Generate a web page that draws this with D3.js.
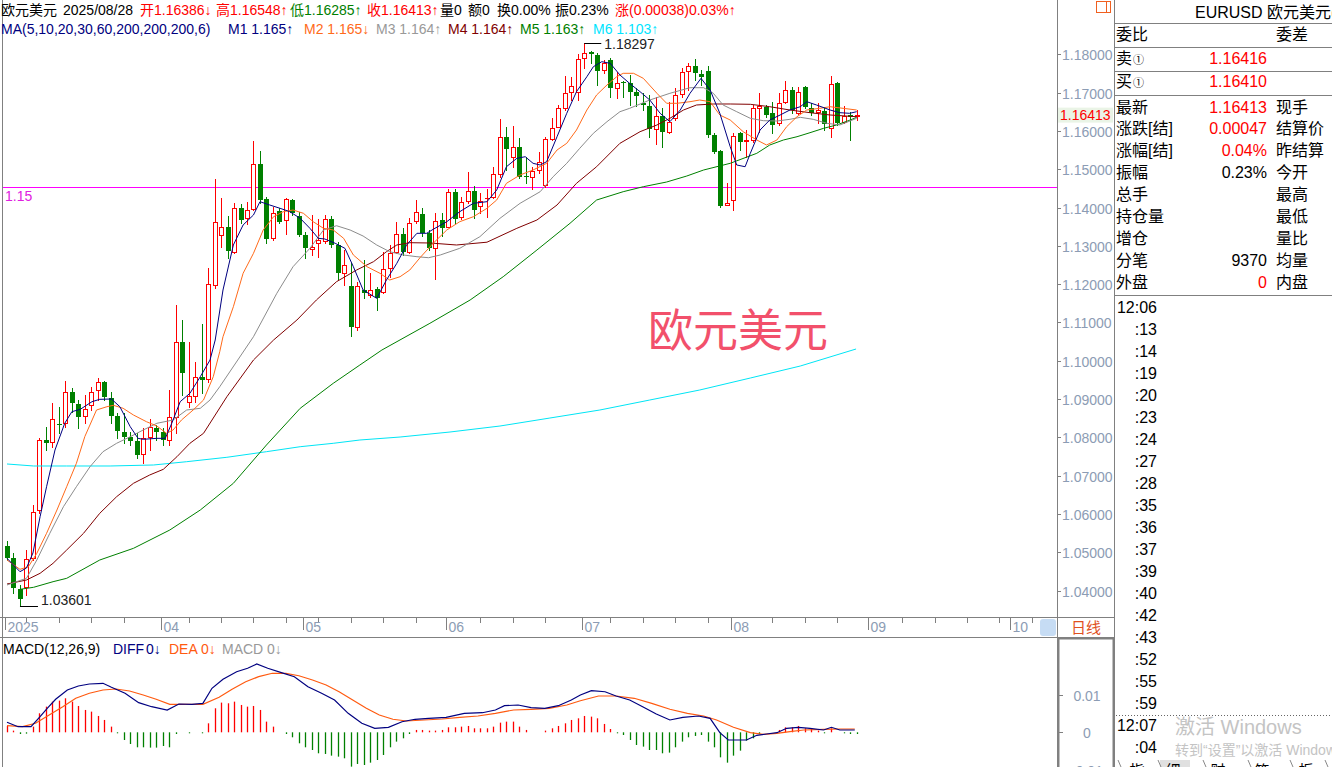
<!DOCTYPE html>
<html><head><meta charset="utf-8">
<script src="https://cdn.jsdelivr.net/npm/d3@7"></script>
<style>
body{margin:0;background:#fff;overflow:hidden}
text{font-family:"Liberation Sans",Arial,"Noto Sans CJK SC",sans-serif}
</style>
</head><body>
<svg id="c" width="1332" height="767"></svg>
<script>
// ---------------- DATA ----------------
const openP=[1.05166,1.04853,1.04044,1.04096,1.04853,1.06106,1.07933,1.07881,1.08351,1.08377,
1.09186,1.08873,1.08559,1.08847,1.09238,1.09447,1.09029,1.08559,1.08142,1.08011,
1.07907,1.07568,1.08011,1.08246,1.08142,1.07933,1.08533,1.10491,1.08925,1.09081,
1.09577,1.09525,1.11979,1.13276,1.13485,1.12848,1.13980,1.13719,1.13962,1.15129,
1.14215,1.13197,1.13910,1.13675,1.14197,1.13779,1.13284,1.12910,1.13067,1.13135,
1.13693,1.13023,1.12284,1.11952,1.10875,1.11848,1.11718,1.11866,1.11804,1.12414,
1.12848,1.13302,1.12848,1.13657,1.13832,1.13328,1.12936,1.13675,1.13500,1.14398,
1.13761,1.14179,1.14440,1.14040,1.14241,1.14283,1.14876,1.15834,1.15312,1.15588,
1.14831,1.14805,1.14980,1.14589,1.15781,1.16110,1.16590,1.17024,1.17024,1.17895,
1.18060,1.17982,1.17590,1.17851,1.17112,1.17285,1.17251,1.17024,1.16721,1.16650,
1.16042,1.16397,1.15980,1.16329,1.16964,1.17564,1.17702,1.17486,1.17564,1.15894,
1.15476,1.14067,1.14197,1.15954,1.15737,1.15763,1.16606,1.16632,1.16460,1.16199,
1.16763,1.17068,1.16476,1.17154,1.16606,1.16502,1.16528,1.16068,1.17243,1.16241,
1.16416,1.16386];
const highP=[1.05297,1.04984,1.04149,1.05062,1.06237,1.07985,1.08272,1.08899,1.08794,1.09473,
1.09290,1.08977,1.09108,1.09316,1.09551,1.09473,1.09186,1.08638,1.08638,1.08142,
1.08116,1.08246,1.08481,1.08325,1.08246,1.09238,1.11457,1.11065,1.10491,1.09969,
1.10961,1.12422,1.14737,1.14241,1.13779,1.14111,1.14093,1.14153,1.15737,1.15476,
1.14283,1.14022,1.13980,1.14257,1.14223,1.13892,1.13370,1.13806,1.13693,1.13806,
1.13779,1.13109,1.12892,1.12545,1.12065,1.12631,1.12284,1.11934,1.12848,1.13023,
1.13631,1.13458,1.13719,1.14197,1.13988,1.13414,1.13866,1.13866,1.14476,1.14476,
1.14268,1.14936,1.14562,1.14372,1.14476,1.15050,1.16311,1.16110,1.16136,1.15807,
1.15327,1.15066,1.15458,1.15834,1.16329,1.16677,1.17434,1.17415,1.18008,1.18297,
1.18086,1.18026,1.17851,1.17895,1.17546,1.17311,1.17460,1.17133,1.16982,1.16938,
1.16893,1.16590,1.16763,1.17112,1.17634,1.17765,1.17869,1.17590,1.17694,1.15946,
1.15502,1.14633,1.15938,1.15980,1.16024,1.16677,1.16998,1.16677,1.16763,1.16982,
1.17311,1.17154,1.17154,1.17172,1.16721,1.16721,1.16632,1.17434,1.17285,1.16650,
1.16502,1.16548];
const lowP=[1.04801,1.03940,1.03601,1.03888,1.04801,1.06028,1.07672,1.07750,1.08116,1.08272,
1.08664,1.08246,1.08377,1.08716,1.08977,1.08977,1.08377,1.07985,1.07855,1.07803,
1.07463,1.07333,1.07672,1.07933,1.07803,1.07803,1.08116,1.09108,1.08794,1.08925,
1.09160,1.09447,1.11893,1.12978,1.12683,1.12806,1.13589,1.13563,1.13936,1.14127,
1.13083,1.13153,1.13605,1.13310,1.13806,1.13257,1.12675,1.12762,1.12717,1.13067,
1.12978,1.12127,1.11979,1.10647,1.10804,1.11631,1.11673,1.11326,1.11762,1.12195,
1.12806,1.12762,1.12806,1.13605,1.13257,1.12892,1.12127,1.13257,1.13485,1.13605,
1.13693,1.14111,1.13719,1.13866,1.13745,1.14241,1.14805,1.14980,1.15050,1.14763,
1.14633,1.14476,1.14910,1.14544,1.15763,1.16095,1.16546,1.16807,1.16807,1.17634,
1.17773,1.17199,1.17520,1.16893,1.16851,1.16893,1.16677,1.16650,1.16546,1.15849,
1.15659,1.15588,1.15938,1.16285,1.16893,1.17068,1.17329,1.17199,1.15849,1.15424,
1.14022,1.14054,1.13936,1.15502,1.15327,1.15719,1.15980,1.16371,1.15938,1.16155,
1.16721,1.16460,1.16442,1.16590,1.16416,1.16199,1.16024,1.15834,1.16155,1.16199,
1.15763,1.16285];
const closeP=[1.04853,1.04070,1.03783,1.04827,1.06054,1.07933,1.07855,1.08481,1.08325,1.09186,
1.08899,1.08533,1.08742,1.09186,1.09447,1.09055,1.08559,1.08168,1.08011,1.07907,
1.07542,1.07985,1.08272,1.08142,1.07933,1.08533,1.10491,1.09682,1.09081,1.09577,
1.09499,1.12005,1.13615,1.13485,1.12874,1.13980,1.13675,1.13936,1.15129,1.14197,
1.13171,1.13866,1.13631,1.14215,1.13850,1.13284,1.12936,1.12978,1.13153,1.13693,
1.13023,1.12300,1.12501,1.10890,1.11952,1.11762,1.11848,1.11631,1.12388,1.12822,
1.13302,1.12848,1.13605,1.13884,1.13336,1.12936,1.13657,1.13458,1.14414,1.13693,
1.14153,1.14440,1.13936,1.14179,1.14257,1.14868,1.15834,1.15520,1.15588,1.14805,
1.14805,1.14962,1.15197,1.15781,1.16068,1.16590,1.16998,1.17172,1.17869,1.18042,
1.18008,1.17572,1.17765,1.17112,1.17259,1.17243,1.17024,1.16911,1.16677,1.16042,
1.16397,1.15980,1.16241,1.16938,1.17530,1.17694,1.17504,1.17415,1.15894,1.15458,
1.14040,1.14127,1.15875,1.15719,1.15763,1.16590,1.16658,1.16416,1.16155,1.16737,
1.17068,1.16546,1.17024,1.16632,1.16476,1.16546,1.16181,1.17225,1.16199,1.16389,
1.16375,1.16413];

// moving averages: [day index, value]
const ma5=[[0,1.04845],[2,1.04496],[3,1.04592],[4,1.04984],[5.1,1.05931],[6.1,1.06714],[7.4,1.07672],[8.9,1.08369],[10,1.08672],[11.3,1.08734],[13.1,1.08933],[14.3,1.08995],[16.1,1.09003],[17.4,1.08802],[19,1.0828],[20.2,1.07977],[21,1.07951],[23.1,1.07977],[24.4,1.07977],[25.4,1.08369],[26.7,1.08933],[28.2,1.09152],[29.8,1.09585],[31.3,1.10021],[32.1,1.10543],[33.3,1.11848],[34.9,1.13023],[36.4,1.13545],[38,1.13806],[39,1.14153],[40.5,1.14067],[42.1,1.1398],[43.6,1.13892],[45.2,1.13719],[46.7,1.13458],[48,1.13197],[49,1.13179],[50.6,1.13067],[52.1,1.12936],[53.4,1.12456],[54.9,1.11848],[57,1.11631],[58.5,1.12109],[60.1,1.12545],[61.6,1.13023],[63.2,1.13328],[64.7,1.13328],[65.7,1.13432],[67.8,1.13631],[69.8,1.13892],[71.9,1.14111],[74,1.14153],[75.5,1.14458],[77,1.15066],[78.6,1.15285],[79.9,1.15327],[81.1,1.15155],[82.2,1.15111],[83.2,1.15197],[84.8,1.15849],[86.3,1.1646],[87.8,1.17024],[89.4,1.17415],[90.4,1.17676],[91.7,1.17807],[93,1.17765],[94.5,1.1746],[96.1,1.17225],[97.6,1.17024],[99.1,1.16807],[100.7,1.1646],[102.2,1.16241],[103.8,1.16546],[105.3,1.16982],[107,1.17373],[108.4,1.17068],[109.9,1.1646],[111.5,1.15588],[112.5,1.15111],[113.8,1.15066],[114.6,1.15416],[116.1,1.16024],[117.6,1.16285],[119.2,1.16416],[120.7,1.16546],[122.3,1.16632],[123.3,1.16763],[124.8,1.16677],[126.9,1.16546],[128.4,1.16476],[129.9,1.1646],[131,1.16502]];
const ma10=[[0,1.04801],[2,1.04558],[3.3,1.04626],[4.6,1.04976],[6.1,1.05498],[7.7,1.06106],[9.2,1.06714],[10.7,1.07325],[12,1.08023],[13.8,1.08716],[15.4,1.08802],[16.4,1.08839],[17.9,1.08761],[19.5,1.08585],[21.5,1.08411],[23.1,1.08298],[24.6,1.08108],[25.6,1.08194],[26.9,1.08455],[28.7,1.08716],[30.3,1.08977],[31.8,1.09585],[32.8,1.10238],[33.3,1.10629],[34.9,1.11412],[36.4,1.12284],[38,1.12806],[39.5,1.13414],[41.1,1.13761],[42.6,1.13892],[44.1,1.13936],[45.7,1.1385],[47.2,1.13631],[48.8,1.13458],[50.3,1.13414],[51.9,1.13197],[53.4,1.12762],[55.5,1.12456],[57.5,1.12284],[59,1.12109],[60.6,1.12195],[62.1,1.1237],[63.7,1.12696],[65,1.12936],[65.7,1.13067],[67.8,1.13414],[69.8,1.13631],[71.9,1.13761],[74,1.1398],[75.5,1.14197],[77,1.14633],[79.1,1.1485],[81.1,1.1498],[83.2,1.15155],[84.8,1.15502],[86.3,1.15677],[87.8,1.16024],[89.4,1.16546],[90.9,1.16938],[92.5,1.17199],[94,1.17415],[95,1.17504],[96.6,1.17504],[98.1,1.17373],[100.2,1.16982],[101.7,1.16721],[103.3,1.16721],[105.3,1.16763],[106.8,1.16807],[108.4,1.16763],[109.9,1.16416],[111.5,1.16285],[113.5,1.1598],[115.6,1.15763],[117.1,1.15633],[118.7,1.15763],[120.2,1.1611],[121.8,1.16371],[123.3,1.16546],[125.3,1.1659],[126.9,1.16632],[128.9,1.1659],[131,1.16546]];
const ma20=[[0,1.04149],[3,1.04324],[4.6,1.04801],[6.6,1.05498],[8.7,1.06192],[10.7,1.06714],[12.8,1.07236],[14.8,1.07628],[16.9,1.07847],[19,1.08019],[21,1.08194],[23.1,1.08369],[25.6,1.08455],[27.7,1.08716],[29.8,1.08761],[31.3,1.08977],[32.8,1.09324],[38,1.10629],[41.6,1.11762],[44.1,1.12456],[46.7,1.12937],[48.8,1.13414],[50.8,1.13526],[52.9,1.13414],[54.9,1.13257],[57,1.13023],[59,1.12848],[61.1,1.12762],[63.2,1.12717],[65,1.12691],[66.8,1.12762],[69.8,1.12936],[72.9,1.13239],[76,1.13719],[79.1,1.14111],[82.2,1.14414],[84.2,1.14805],[86.3,1.15155],[88.3,1.15546],[90.4,1.15938],[92.5,1.16241],[94.5,1.16502],[96,1.1659],[99.1,1.16807],[102.2,1.16982],[105.3,1.17128],[107.4,1.17128],[108.9,1.16982],[110.4,1.16677],[112.5,1.16502],[114.6,1.16329],[116.6,1.16267],[118.7,1.16259],[120.7,1.16303],[122.3,1.16355],[124.3,1.16303],[126.4,1.16199],[128.4,1.16155],[131,1.16329]];
const ma30=[[0,1.04175],[3,1.04279],[5.1,1.04454],[7.1,1.04715],[9.2,1.05062],[11.8,1.05498],[14.3,1.0602],[16.9,1.06453],[19.5,1.06803],[22,1.0702],[24.1,1.07168],[26.2,1.07497],[28.2,1.07847],[30.3,1.08108],[33.9,1.09063],[38,1.10021],[41.1,1.10543],[44.7,1.11065],[47.7,1.11587],[50.8,1.12065],[53.9,1.1237],[56.5,1.12587],[58.5,1.12848],[60.1,1.13023],[62.1,1.13083],[65.2,1.13075],[69.3,1.13023],[74,1.13096],[78.6,1.13458],[81.7,1.13675],[84.8,1.14067],[87.8,1.14633],[90.9,1.15066],[94.5,1.15677],[97.6,1.1598],[100.2,1.16155],[102.2,1.16329],[104.3,1.16546],[106.3,1.16677],[108.9,1.16703],[111.5,1.16703],[114.6,1.16695],[117.6,1.16632],[120.7,1.16546],[123.8,1.16476],[126.9,1.16416],[131,1.16371]];
const ma60=[[2,1.04036],[4.1,1.04089],[7.1,1.04235],[9.2,1.04323],[14.3,1.04801],[19.5,1.05106],[25.1,1.05584],[29.8,1.06106],[34.9,1.06803],[40,1.07802],[45.2,1.0876],[50.3,1.09413],[54.4,1.0989],[57.8,1.10282],[65.2,1.10979],[71.4,1.11587],[76.5,1.12195],[81.7,1.12892],[86.8,1.13589],[90.9,1.14197],[95,1.14414],[98.1,1.14544],[101.7,1.14667],[104.8,1.14823],[107.4,1.1498],[111.5,1.15155],[115.6,1.15416],[117.6,1.15633],[119.7,1.15763],[121.8,1.15849],[123.8,1.15954],[125.9,1.16068],[127.9,1.16155],[130,1.16285],[131,1.16356]];
const ma200=[[0,1.07307],[4.1,1.07255],[9.2,1.07255],[15.9,1.07255],[22.6,1.07281],[27.7,1.07367],[33.9,1.07482],[40,1.07628],[45.2,1.07758],[50.3,1.07847],[54.4,1.07933],[60.6,1.08011],[68.3,1.08142],[76,1.08298],[83.7,1.08507],[91.4,1.08716],[99.1,1.08977],[106.8,1.09238],[114.6,1.09551],[122.3,1.09864],[130.9,1.10308]];

// MACD panel
const macdDiff=[[0,0.00268],[1.7,0.0015],[3.7,0.0015],[5.1,0.00418],[6.2,0.00643],[7.5,0.00885],[9.3,0.01134],[11,0.01241],[12.7,0.01295],[14.8,0.01314],[16.1,0.01206],[18.2,0.01046],[20.3,0.00794],[22.3,0.00686],[24.7,0.00598],[26.5,0.00759],[28.5,0.00751],[30.2,0.00777],[31.6,0.0118],[33.3,0.01421],[35.4,0.01625],[37.1,0.01716],[38.5,0.01831],[40.2,0.01716],[42.3,0.01598],[44.3,0.01491],[46.4,0.01223],[48.5,0.01046],[50.5,0.00866],[52.6,0.00509],[54.7,0.00241],[56.7,0.00107],[58.8,0.00134],[60.9,0.00284],[62.9,0.00349],[65,0.00375],[67.7,0.00402],[70.5,0.00509],[73.3,0.00525],[75.3,0.00598],[76.7,0.00713],[78.8,0.00732],[80.8,0.0066],[82.9,0.00643],[85,0.00713],[87,0.00866],[88.4,0.01],[90.1,0.01115],[92.2,0.01088],[93.9,0.00973],[96,0.00866],[98,0.00686],[100.1,0.00491],[102.2,0.0033],[104.2,0.00402],[106.6,0.00437],[108.4,0.00375],[109.9,-0.0001],[111.2,-0.00206],[114,-0.00206],[115.6,-0.0008],[117.1,-0.00046],[118.7,-0.0001],[120.2,0.00107],[122,0.00134],[123.8,0.00107],[125.9,0.00062],[127.1,0.00134],[128.4,0.00062],[130.7,0.00062]];
const macdDea=[[0,0.00177],[2.4,0.0015],[4.4,0.00241],[6.5,0.00464],[8.6,0.00686],[10.6,0.00912],[12.7,0.01046],[14.8,0.01134],[16.8,0.01161],[18.9,0.01107],[21,0.01],[23,0.00885],[25.1,0.00751],[27.8,0.00751],[30.2,0.00751],[32.7,0.00938],[34.7,0.01153],[36.8,0.01357],[38.8,0.01491],[40.9,0.01582],[43,0.01582],[45,0.01517],[47.1,0.01402],[49.2,0.01268],[51.2,0.01088],[53.3,0.00866],[55.4,0.00643],[57.4,0.00464],[59.5,0.00349],[61.6,0.00303],[64.3,0.0033],[67.1,0.00357],[69.8,0.00402],[72.6,0.00437],[75.3,0.00509],[78.1,0.00598],[80.8,0.00617],[83.6,0.00643],[86.3,0.00732],[88.4,0.00847],[91.2,0.00973],[93.9,0.00973],[96.7,0.00912],[99.4,0.00777],[102.2,0.00617],[104.9,0.00509],[107.4,0.00437],[109.4,0.0033],[112,0.00134],[114.6,-0.0001],[116.6,-0.00054],[118.7,-0.00027],[120.7,0.00016],[122.8,0.00062],[125.9,0.0008],[128.4,0.00088],[130.7,0.00088]];
const macdBar=[0.0017,0.00045,-0.00045,-0.00036,0.00152,0.0051,0.00688,0.00822,0.00849,0.00912,
0.00822,0.00706,0.00599,0.00554,0.00438,0.00331,0.00152,-0.00027,-0.00206,-0.00313,
-0.00402,-0.00402,-0.00411,-0.00411,-0.00367,-0.00402,-0.00045,0,-0.00027,0,
-0.00027,0.00241,0.00644,0.00796,0.00778,0.00822,0.00733,0.00688,0.00706,0.00599,
0.00286,0.00152,0,-0.00045,-0.00134,-0.00295,-0.00402,-0.00474,-0.00563,-0.00581,
-0.00626,-0.00653,-0.00697,-0.00921,-0.00849,-0.00876,-0.00814,-0.00742,-0.00608,-0.00402,
-0.0025,-0.00161,-0.00045,0.00063,0.00063,0.00045,0.00045,0.00063,0.00134,0.00134,
0.00152,0.0017,0.00107,0.00107,0.00107,0.00152,0.00259,0.00286,0.00286,0.00152,
0.00063,0,0,0.00045,0.00107,0.0017,0.00241,0.00331,0.00375,0.00438,
0.0042,0.00375,0.00224,0.00089,-0.00027,-0.00072,-0.00206,-0.0034,-0.00384,-0.00474,
-0.00474,-0.00563,-0.00545,-0.00402,-0.0025,-0.00134,-0.00098,-0.00072,-0.0025,-0.00402,
-0.00671,-0.00814,-0.00626,-0.00492,-0.00224,-0.00161,-0.00045,0,0,0.00063,
0.00134,0.00134,0.0017,0.00107,0.00089,0.00045,-0.00027,0.00107,0,-0.00027,
-0.00045,-0.00045];

const monthTicks=[{i:0,label:"2025"},{i:24,label:"04"},{i:46,label:"05"},{i:68,label:"06"},{i:89,label:"07"},{i:112,label:"08"},{i:133,label:"09"},{i:155,label:"10"}];
const priceTicks=[1.04,1.05,1.06,1.07,1.08,1.09,1.10,1.11,1.12,1.13,1.14,1.15,1.16,1.17,1.18];
const macdTicks=[{v:0.01,t:"0.01"},{v:0,t:"0"},{v:-0.01,t:"-0.01"}];
const markLine={v:1.1454,label:"1.15"};
const highMark={i:89,v:1.18297,label:"1.18297"};
const lowMark={i:2,v:1.03601,label:"1.03601"};
const lastPrice=1.16413;

const header1=[["欧元美元",1,"#000"],["2025/08/28",63,"#000"],["开1.16386↓",140,"#f00"],["高1.16548↑",216,"#f00"],["低1.16285↑",290,"#008000"],["收1.16413↑",367,"#f00"],["量0",440,"#000"],["额0",468,"#000"],["换0.00%",497,"#000"],["振0.23%",555,"#000"],["涨(0.00038)0.03%↑",615,"#f00"]];
const header2=[["MA(5,10,20,30,60,200,200,200,6)",1,"#000080"],["M1 1.165↑",228,"#000080"],["M2 1.165↓",304,"#ff6a1a"],["M3 1.164↑",376,"#999"],["M4 1.164↑",448,"#800000"],["M5 1.163↑",520,"#008000"],["M6 1.103↑",593,"#00e5ff"]];
const maColors=["#000080","#ff6a1a","#8c8c8c","#800000","#008000","#00e5f5"];

const tableRows=[
 {y:106.7,a:"最新",v:"1.16413",vc:"#f00",b:"现手"},
 {y:128.3,a:"涨跌[结]",v:"0.00047",vc:"#f00",b:"结算价"},
 {y:150.3,a:"涨幅[结]",v:"0.04%",vc:"#f00",b:"昨结算"},
 {y:172.3,a:"振幅",v:"0.23%",vc:"#000",b:"今开"},
 {y:194.3,a:"总手",v:"",vc:"#000",b:"最高"},
 {y:216.3,a:"持仓量",v:"",vc:"#000",b:"最低"},
 {y:238.3,a:"增仓",v:"",vc:"#000",b:"量比"},
 {y:260.3,a:"分笔",v:"9370",vc:"#000",b:"均量"},
 {y:282.3,a:"外盘",v:"0",vc:"#f00",b:"内盘"}];
const timeLabels=["12:06",":13",":14",":19",":20",":23",":24",":27",":28",":35",":36",":37",":39",":40",":42",":43",":52",":55",":59"];
const timeLabels2=["12:07",":04"];
const tabs=[["指",1137],["细",1173],["财",1218],["笔",1262],["板",1306]];

// ---------------- DRAW ----------------
const svg=d3.select("#c");
const xs=d3.scaleLinear().domain([0,131]).range([7,856.7]);
const ys=d3.scaleLinear().domain([1.04,1.18]).range([590.7,54.3]);
const ym=d3.scaleLinear().domain([0,0.01]).range([732.3,695]);
const axisColor="#8c9cb4", frame="#808080";

const defs=svg.append("defs");
defs.append("clipPath").attr("id","cm").append("rect").attr("x",3).attr("y",0).attr("width",1054).attr("height",617);
defs.append("clipPath").attr("id","cd").append("rect").attr("x",3).attr("y",638).attr("width",1054).attr("height",129);

// frames
const fr=svg.append("g").attr("stroke",frame).attr("stroke-width",1).attr("fill","none");
fr.append("line").attr("x1",2.5).attr("x2",2.5).attr("y1",0).attr("y2",767);
fr.append("line").attr("x1",1057.5).attr("x2",1057.5).attr("y1",0).attr("y2",767);
fr.append("line").attr("x1",1114.5).attr("x2",1114.5).attr("y1",0).attr("y2",767);
fr.append("line").attr("x1",0).attr("x2",1114).attr("y1",617.5).attr("y2",617.5);
fr.append("line").attr("x1",0).attr("x2",1114).attr("y1",637.5).attr("y2",637.5);
fr.append("rect").attr("x",1058.5).attr("y",638.5).attr("width",55).attr("height",140).attr("stroke-width",2);

// main pane
const gm=svg.append("g").attr("clip-path","url(#cm)");
gm.append("line").attr("x1",3).attr("x2",1057).attr("y1",Math.round(ys(markLine.v))+0.5).attr("y2",Math.round(ys(markLine.v))+0.5).attr("stroke","#ff00ff");
svg.append("text").attr("x",5).attr("y",ys(markLine.v)+14).attr("font-size",14).attr("fill","#e020e0").text(markLine.label);

svg.append("text").attr("x",648).attr("y",347).attr("font-size",45).attr("fill","#f2506b")
  .style("font-family","'Noto Sans CJK SC',sans-serif").text("欧元美元");

// candles
const cg=gm.append("g");
openP.forEach((o,i)=>{
  const c=closeP[i],h=highP[i],l=lowP[i];
  const cx=Math.round(xs(i));
  const top=Math.round(ys(Math.max(o,c))),bot=Math.round(ys(Math.min(o,c)));
  const yh=Math.round(ys(h)),yl=Math.round(ys(l));
  if(c>=o){
    const col="#ff0000";
    cg.append("line").attr("x1",cx+0.5).attr("x2",cx+0.5).attr("y1",yh).attr("y2",top).attr("stroke",col);
    cg.append("line").attr("x1",cx+0.5).attr("x2",cx+0.5).attr("y1",bot+1).attr("y2",yl+1).attr("stroke",col);
    if(bot-top<1){
      cg.append("line").attr("x1",cx-2).attr("x2",cx+3).attr("y1",top+0.5).attr("y2",top+0.5).attr("stroke",col);
    } else {
      cg.append("rect").attr("x",cx-1.5).attr("y",top+0.5).attr("width",4).attr("height",bot-top).attr("fill","#fff").attr("stroke",col);
    }
  } else {
    const col="#008000";
    cg.append("line").attr("x1",cx+0.5).attr("x2",cx+0.5).attr("y1",yh).attr("y2",yl+1).attr("stroke",col);
    cg.append("rect").attr("x",cx-2).attr("y",top).attr("width",5).attr("height",Math.max(bot-top,1)).attr("fill",col);
  }
});

// MA lines
const line=d3.line().x(d=>xs(d[0])).y(d=>ys(d[1]));
[ma200,ma60,ma30,ma20,ma10,ma5].forEach((s,k)=>{
  const col=maColors[5-k];
  gm.append("path").attr("d",line(s)).attr("fill","none").attr("stroke",col).attr("stroke-width",1);
});

// high / low marks
const hx=xs(highMark.i), hy=Math.round(ys(highMark.v))+0.5;
svg.append("line").attr("x1",hx).attr("x2",hx+17).attr("y1",hy).attr("y2",hy).attr("stroke","#000");
svg.append("text").attr("x",hx+20).attr("y",hy+5).attr("font-size",14).attr("fill","#222").text(highMark.label);
const lx=xs(lowMark.i), ly=Math.round(ys(lowMark.v))+0.5;
svg.append("line").attr("x1",lx).attr("x2",lx+18).attr("y1",ly).attr("y2",ly).attr("stroke","#000");
svg.append("text").attr("x",lx+21).attr("y",ly-2).attr("font-size",14).attr("fill","#222").text(lowMark.label);

// headers
const h1=svg.append("text").attr("y",14.5).attr("font-size",14);
header1.forEach(d=>h1.append("tspan").attr("x",d[1]).attr("fill",d[2]).text(d[0]));
const h2=svg.append("text").attr("y",34).attr("font-size",14);
header2.forEach(d=>h2.append("tspan").attr("x",d[1]).attr("fill",d[2]).text(d[0]));

// right price axis
const ra=svg.append("g");
priceTicks.forEach(p=>{
  const y=Math.round(ys(p))+0.5;
  ra.append("line").attr("x1",1057).attr("x2",1061).attr("y1",y).attr("y2",y).attr("stroke",frame);
  ra.append("text").attr("x",1062).attr("y",y+5).attr("font-size",14).attr("fill",axisColor).text(p.toFixed(5));
});
const ly2=ys(lastPrice);
ra.append("rect").attr("x",1058).attr("y",ly2-7.5).attr("width",55).attr("height",15).attr("fill","#eaf4e6");
ra.append("text").attr("x",1060).attr("y",ly2+5).attr("font-size",14).attr("fill","#f00").text(lastPrice.toFixed(5));

// x axis
const xa=svg.append("g");
const monthIdx=monthTicks.map(d=>d.i);
for(let i=3;i<=160;i+=5){
  if(monthIdx.some(m=>Math.abs(m-i)<2)) continue;
  const x=Math.round(xs(i))+0.5;
  if(x>1040) continue;
  xa.append("line").attr("x1",x).attr("x2",x).attr("y1",618).attr("y2",623).attr("stroke",frame);
}
monthTicks.forEach(d=>{
  const x=Math.round(xs(d.i))-1.5;
  xa.append("line").attr("x1",x).attr("x2",x).attr("y1",618).attr("y2",630).attr("stroke",frame);
  xa.append("text").attr("x",x+2).attr("y",632).attr("font-size",14).attr("fill",axisColor).text(d.label);
});
xa.append("rect").attr("x",1040).attr("y",619).attr("width",16).attr("height",17).attr("rx",3).attr("fill","#c6dcf4");
xa.append("text").attr("x",1071).attr("y",633).attr("font-size",15).attr("fill","#e0501e").text("日线");

// MACD pane
const gd=svg.append("g").attr("clip-path","url(#cd)");
macdBar.forEach((v,i)=>{
  if(v===0) return;
  const x=Math.round(xs(i))+0.5;
  gd.append("line").attr("x1",x).attr("x2",x).attr("y1",ym(0)).attr("y2",ym(v)).attr("stroke",v>0?"#ff0000":"#008000").attr("stroke-width",1.3);
});
const mline=d3.line().x(d=>xs(d[0])).y(d=>ym(d[1]));
gd.append("path").attr("d",mline(macdDea)).attr("fill","none").attr("stroke","#ff5a10").attr("stroke-width",1.2);
gd.append("path").attr("d",mline(macdDiff)).attr("fill","none").attr("stroke","#000080").attr("stroke-width",1.2);
const mh=svg.append("text").attr("y",654).attr("font-size",14);
[["MACD(12,26,9)",3,"#000"],["DIFF",113,"#000080"],["0↓",146,"#000080"],["DEA",169,"#ff5a10"],["0↓",201,"#ff5a10"],["MACD",222,"#999"],["0↓",267,"#999"]]
  .forEach(d=>mh.append("tspan").attr("x",d[1]).attr("fill",d[2]).text(d[0]));
macdTicks.forEach(d=>{
  const y=Math.round(ym(d.v))+0.5;
  svg.append("line").attr("x1",1059).attr("x2",1063).attr("y1",y).attr("y2",y).attr("stroke",frame);
  svg.append("text").attr("x",1087).attr("y",y+5).attr("text-anchor","middle").attr("font-size",14).attr("fill",axisColor).text(d.t);
});

// right panel
const rp=svg.append("g");
rp.append("rect").attr("x",1096.5).attr("y",1.5).attr("width",14).attr("height",11).attr("fill","none").attr("stroke","#f06020");
rp.append("line").attr("x1",1106.5).attr("x2",1106.5).attr("y1",1.5).attr("y2",12.5).attr("stroke","#f06020");
rp.append("text").attr("x",1195).attr("y",18).attr("font-size",16).attr("fill","#000").text("EURUSD 欧元美元(");
[23.5,47.5,71.5,95.5,295.5].forEach(y=>rp.append("line").attr("x1",1114).attr("x2",1332).attr("y1",y).attr("y2",y).attr("stroke",frame));
rp.append("text").attr("x",1116).attr("y",39.5).attr("font-size",16).text("委比");
rp.append("text").attr("x",1276).attr("y",39.5).attr("font-size",16).text("委差");
const sell=rp.append("text").attr("x",1116).attr("y",64).attr("font-size",16);
sell.append("tspan").text("卖");sell.append("tspan").attr("font-size",11).attr("dx",1).text("①");
rp.append("text").attr("x",1267).attr("y",64).attr("text-anchor","end").attr("font-size",16).attr("fill","#f00").text("1.16416");
const buy=rp.append("text").attr("x",1116).attr("y",87).attr("font-size",16);
buy.append("tspan").text("买");buy.append("tspan").attr("font-size",11).attr("dx",1).text("①");
rp.append("text").attr("x",1267).attr("y",87).attr("text-anchor","end").attr("font-size",16).attr("fill","#f00").text("1.16410");
tableRows.forEach(r=>{
  rp.append("text").attr("x",1116).attr("y",r.y+6).attr("font-size",16).text(r.a);
  rp.append("text").attr("x",1267).attr("y",r.y+6).attr("text-anchor","end").attr("font-size",16).attr("fill",r.vc).text(r.v);
  rp.append("text").attr("x",1276).attr("y",r.y+6).attr("font-size",16).text(r.b);
});
timeLabels.forEach((t,k)=>{
  rp.append("text").attr("x",1157).attr("y",306.7+k*22.03+6).attr("text-anchor","end").attr("font-size",16).text(t);
});
rp.append("line").attr("x1",1116).attr("x2",1332).attr("y1",715.5).attr("y2",715.5).attr("stroke","#666").attr("stroke-dasharray","1,2");
timeLabels2.forEach((t,k)=>{
  rp.append("text").attr("x",1157).attr("y",725+k*22.3+6).attr("text-anchor","end").attr("font-size",16).text(t);
});
rp.append("text").attr("x",1175).attr("y",734).attr("font-size",20).attr("fill","#c4c4c4").text("激活 Windows");
rp.append("text").attr("x",1175).attr("y",755).attr("font-size",14).attr("fill","#c4c4c4").text("转到“设置”以激活 Windows。");
rp.append("rect").attr("x",1160).attr("y",760).attr("width",30).attr("height",10).attr("fill","#e0e0e0");
tabs.forEach(d=>rp.append("text").attr("x",d[1]).attr("y",776).attr("text-anchor","middle").attr("font-size",15).text(d[0]));
[1118,1158,1203,1248,1290,1325].forEach(x=>rp.append("line").attr("x1",x).attr("x2",x+3).attr("y1",760).attr("y2",767).attr("stroke","#888"));
</script>
</body></html>
